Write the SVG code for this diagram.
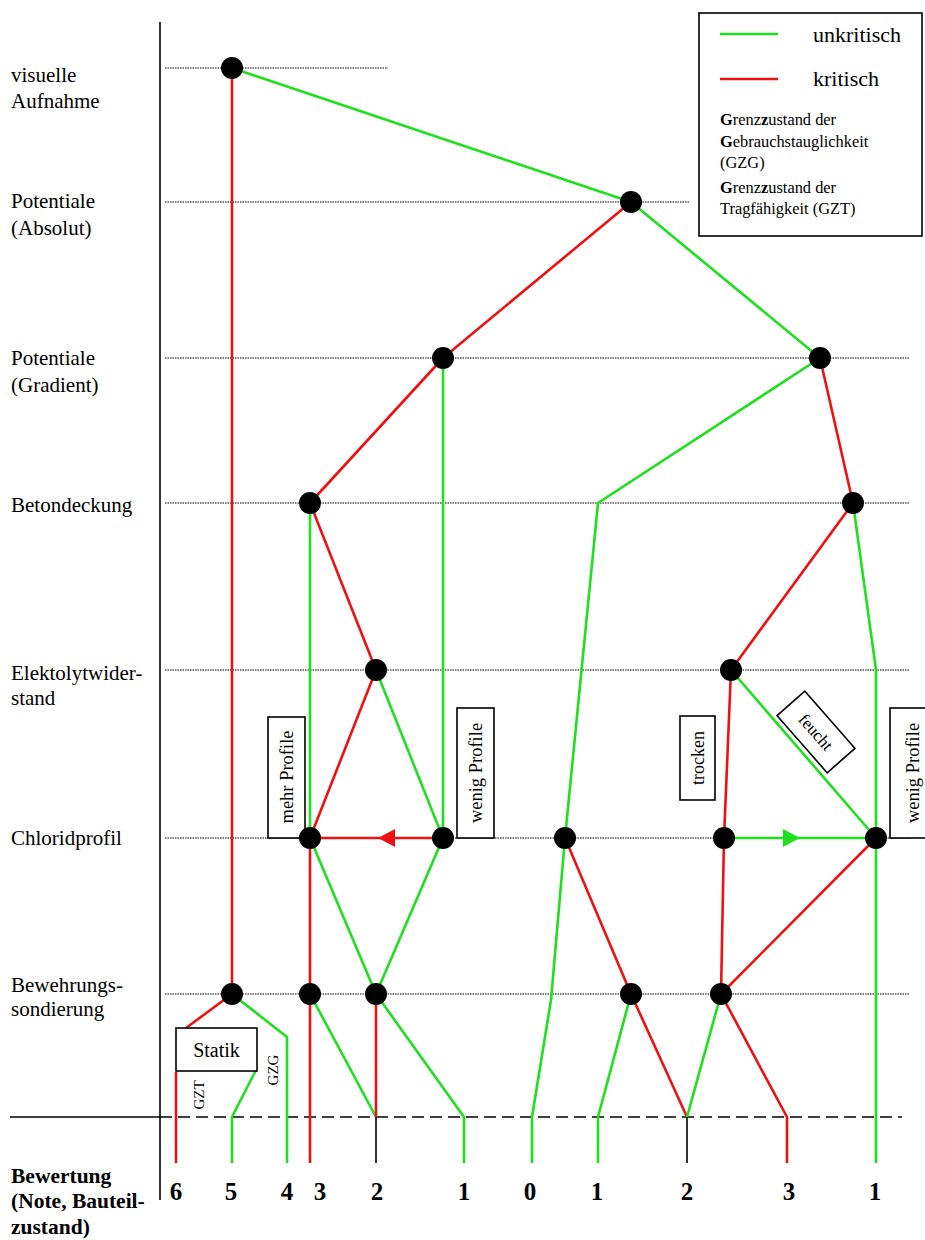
<svg xmlns="http://www.w3.org/2000/svg" width="925" height="1240" viewBox="0 0 925 1240" font-family="'Liberation Serif', 'DejaVu Serif', serif">
<style>
text{font-family:'Liberation Serif','DejaVu Serif',serif;fill:#000}
.lab{font-size:21px}
.b{font-weight:bold}
.num{font-size:25px;font-weight:bold;text-anchor:middle}
.sm{font-size:16.4px}
.dot{stroke:#000;stroke-width:1.2;stroke-dasharray:1.5,1;fill:none}
.g{stroke:#1ee01e;stroke-width:2.6;fill:none;stroke-linejoin:round}
.r{stroke:#ee1111;stroke-width:2.6;fill:none;stroke-linejoin:round}
.k{stroke:#000;stroke-width:1.6;fill:none}
.box{fill:#fff;stroke:#000;stroke-width:1.6}
.n{fill:#000}
</style>
<rect width="925" height="1240" fill="#fff"/>
<g id="grid">
<line class="k" x1="160" y1="22" x2="160" y2="1200"/>
<line class="k" x1="10" y1="1117" x2="160" y2="1117"/>
<line x1="160" y1="1117" x2="902" y2="1117" stroke="#000" stroke-width="1.6" stroke-dasharray="12,6"/>
<line class="dot" x1="165" y1="68" x2="388" y2="68"/>
<line class="dot" x1="165" y1="202" x2="690" y2="202"/>
<line class="dot" x1="165" y1="358" x2="910" y2="358"/>
<line class="dot" x1="165" y1="503" x2="910" y2="503"/>
<line class="dot" x1="165" y1="670" x2="910" y2="670"/>
<line class="dot" x1="165" y1="838" x2="910" y2="838"/>
<line class="dot" x1="165" y1="994" x2="910" y2="994"/>
</g>
<g id="row-labels" class="lab">
<text x="11" y="82">visuelle</text>
<text x="11" y="108">Aufnahme</text>
<text x="11" y="208">Potentiale</text>
<text x="11" y="235">(Absolut)</text>
<text x="11" y="365">Potentiale</text>
<text x="11" y="392">(Gradient)</text>
<text x="11" y="512">Betondeckung</text>
<text x="11" y="680">Elektolytwider-</text>
<text x="11" y="705">stand</text>
<text x="11" y="845">Chloridprofil</text>
<text x="11" y="992">Bewehrungs-</text>
<text x="11" y="1016">sondierung</text>
<text class="b" x="11" y="1183" font-size="21.5">Bewertung</text>
<text class="b" x="11" y="1208" font-size="21.5">(Note, Bauteil-</text>
<text class="b" x="11" y="1234" font-size="21.5">zustand)</text>
</g>
<g id="legend">
<rect class="box" x="699" y="13" width="223" height="223"/>
<line class="g" x1="720" y1="34" x2="778" y2="34"/>
<line class="r" x1="720" y1="79" x2="778" y2="79"/>
<text x="813" y="42" font-size="22">unkritisch</text>
<text x="813" y="86" font-size="22">kritisch</text>
<text class="sm" x="720" y="125"><tspan font-weight="bold">G</tspan>renz<tspan font-weight="bold">z</tspan>ustand der</text>
<text class="sm" x="720" y="147"><tspan font-weight="bold">G</tspan>ebrauchstauglichkeit</text>
<text class="sm" x="720" y="168">(GZG)</text>
<text class="sm" x="720" y="193"><tspan font-weight="bold">G</tspan>renz<tspan font-weight="bold">z</tspan>ustand der</text>
<text class="sm" x="720" y="214">Tragfähigkeit (GZT)</text>
</g>
<g id="connectors">
<line class="r" x1="232" y1="68" x2="232" y2="994"/>
<line class="g" x1="232" y1="68" x2="631" y2="202"/>
<line class="r" x1="631" y1="202" x2="443" y2="358"/>
<line class="g" x1="631" y1="202" x2="820" y2="358"/>
<line class="r" x1="443" y1="358" x2="310" y2="503"/>
<line class="g" x1="443" y1="358" x2="443" y2="838"/>
<polyline class="g" points="820,358 598,503 565,838 551,1000 532,1117 532,1163"/>
<line class="r" x1="820" y1="358" x2="853" y2="503"/>
<line class="r" x1="853" y1="503" x2="731" y2="670"/>
<polyline class="g" points="853,503 876,670 876,1163"/>
<line class="g" x1="310" y1="503" x2="310" y2="838"/>
<line class="r" x1="310" y1="503" x2="376" y2="670"/>
<line class="r" x1="376" y1="670" x2="310" y2="838"/>
<line class="g" x1="376" y1="670" x2="443" y2="838"/>
<line class="r" x1="443" y1="838" x2="310" y2="838"/>
<polygon points="378,838 395,829 395,847" fill="#ee1111"/>
<line class="r" x1="310" y1="838" x2="310" y2="1163"/>
<line class="g" x1="310" y1="838" x2="376" y2="994"/>
<line class="g" x1="443" y1="838" x2="376" y2="994"/>
<line class="g" x1="310" y1="994" x2="376" y2="1117"/>
<line class="r" x1="376" y1="994" x2="376" y2="1117"/>
<line class="k" x1="376" y1="1117" x2="376" y2="1163"/>
<polyline class="g" points="376,994 464,1117 464,1163"/>
<line class="r" x1="232" y1="994" x2="186" y2="1028"/>
<polyline class="g" points="232,994 287,1037 287,1163"/>
<polyline class="g" points="256,1070 232,1117 232,1163"/>
<line class="r" x1="176" y1="1072" x2="176" y2="1163"/>
<line class="r" x1="565" y1="838" x2="631" y2="994"/>
<polyline class="g" points="631,994 598,1117 598,1163"/>
<line class="r" x1="631" y1="994" x2="687" y2="1117"/>
<line class="k" x1="687" y1="1117" x2="687" y2="1163"/>
<polyline class="r" points="731,670 724,838 721,994"/>
<line class="g" x1="731" y1="670" x2="876" y2="838"/>
<line class="g" x1="724" y1="838" x2="876" y2="838"/>
<polygon points="800,838 783,829 783,847" fill="#1ee01e"/>
<line class="r" x1="876" y1="838" x2="721" y2="994"/>
<line class="g" x1="721" y1="994" x2="687" y2="1117"/>
<polyline class="r" points="721,994 787,1117 787,1163"/>
</g>
<g id="label-boxes">
<g id="statik"><rect class="box" x="176" y="1028" width="81" height="43"/><text x="216.5" y="1057" font-size="20" text-anchor="middle">Statik</text></g>
<text font-size="15" transform="translate(204,1095) rotate(-90)" text-anchor="middle">GZT</text>
<text font-size="15" transform="translate(278,1070) rotate(-90)" text-anchor="middle">GZG</text>
<g id="mehr-profile"><rect class="box" x="268" y="717" width="37" height="121"/><text font-size="18.5" transform="translate(293,777) rotate(-90)" text-anchor="middle">mehr Profile</text></g>
<g id="wenig-profile-1"><rect class="box" x="457" y="708" width="37" height="130"/><text font-size="18.5" transform="translate(482,773) rotate(-90)" text-anchor="middle">wenig Profile</text></g>
<g id="trocken"><rect class="box" x="680" y="716" width="35" height="84"/><text font-size="18" transform="translate(704,758) rotate(-90)" text-anchor="middle">trocken</text></g>
<g id="feucht" transform="translate(816,732) rotate(48.7)"><rect class="box" x="-38" y="-18.5" width="76" height="37"/><text font-size="17" x="0" y="6" text-anchor="middle">feucht</text></g>
<g id="wenig-profile-2"><rect class="box" x="890" y="708" width="40" height="130"/><text font-size="18.5" transform="translate(919,773) rotate(-90)" text-anchor="middle">wenig Profile</text></g>
</g>
<g id="nodes">
<circle class="n" cx="232" cy="68" r="11"/>
<circle class="n" cx="631" cy="202" r="11"/>
<circle class="n" cx="443" cy="358" r="11"/>
<circle class="n" cx="820" cy="358" r="11"/>
<circle class="n" cx="310" cy="503" r="11"/>
<circle class="n" cx="853" cy="503" r="11"/>
<circle class="n" cx="376" cy="670" r="11"/>
<circle class="n" cx="731" cy="670" r="11"/>
<circle class="n" cx="310" cy="838" r="11"/>
<circle class="n" cx="443" cy="838" r="11"/>
<circle class="n" cx="565" cy="838" r="11"/>
<circle class="n" cx="724" cy="838" r="11"/>
<circle class="n" cx="876" cy="838" r="11"/>
<circle class="n" cx="232" cy="994" r="11"/>
<circle class="n" cx="310" cy="994" r="11"/>
<circle class="n" cx="376" cy="994" r="11"/>
<circle class="n" cx="631" cy="994" r="11"/>
<circle class="n" cx="721" cy="994" r="11"/>
</g>
<g id="ratings" class="num">
<text x="176" y="1200">6</text>
<text x="231" y="1200">5</text>
<text x="287" y="1200">4</text>
<text x="320" y="1200">3</text>
<text x="377" y="1200">2</text>
<text x="464" y="1200">1</text>
<text x="530" y="1200">0</text>
<text x="597" y="1200">1</text>
<text x="687" y="1200">2</text>
<text x="789" y="1200">3</text>
<text x="875" y="1200">1</text>
</g>
</svg>
